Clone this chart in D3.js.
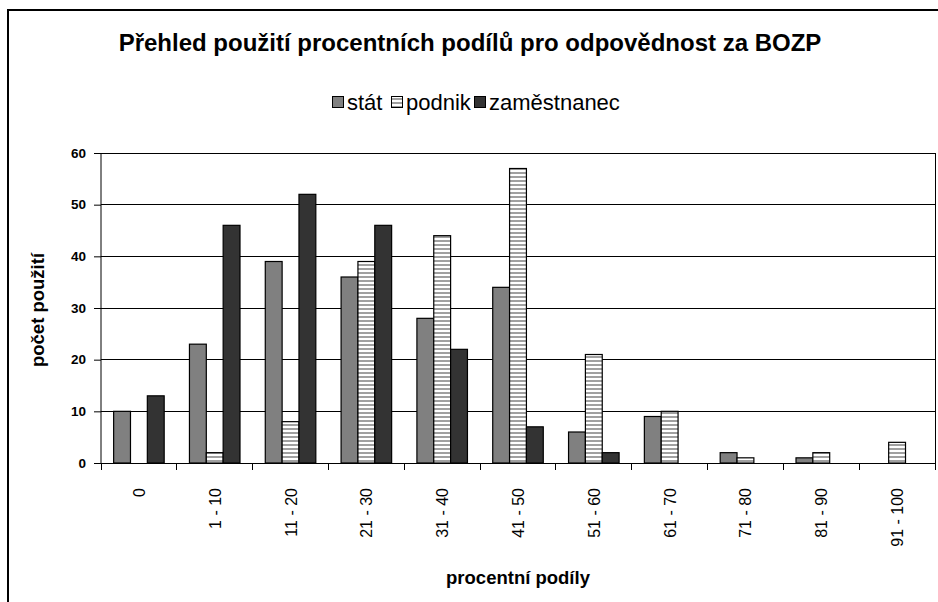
<!DOCTYPE html>
<html>
<head>
<meta charset="utf-8">
<script src="https://cdn.jsdelivr.net/npm/d3@7"></script>
<style>
	body { margin: 0; background: #fff; }
	text { font-family: Arial, "Liberation Sans", sans-serif; }
</style>
</head>
<body>
<svg id="chart" width="938" height="602"></svg>
<script>

// data
var categories = ['0', '1 - 10', '11 - 20', '21 - 30', '31 - 40', '41 - 50', '51 - 60', '61 - 70', '71 - 80', '81 - 90', '91 - 100'];
var seriesNames = ['stát', 'podnik', 'zaměstnanec'];
var statValues = [10, 23, 39, 36, 28, 34, 6, 9, 2, 1, 0];
var podnikValues = [0, 2, 8, 39, 44, 57, 21, 10, 1, 2, 4];
var zamestnanecValues = [13, 46, 52, 46, 22, 7, 2, 0, 0, 0, 0];
var yTicks = [0, 10, 20, 30, 40, 50, 60];

var seriesFill = ['#808080', 'url(#stripes)', '#333333'];

var svg = d3.select('#chart');

// stripe pattern for the "podnik" bars
var defs = svg.append('defs');
var pat = defs.append('pattern')
	.attr('id', 'stripes')
	.attr('patternUnits', 'userSpaceOnUse')
	.attr('width', 4)
	.attr('height', 4);
pat.append('rect').attr('width', 4).attr('height', 4).attr('fill', '#ffffff');
pat.append('rect').attr('width', 4).attr('height', 2).attr('fill', '#a0a0a0');

// outer frame (right and bottom run off the picture)
svg.append('path')
	.attr('d', 'M8,620 L8,10 L960,10')
	.attr('fill', 'none')
	.attr('stroke', '#000')
	.attr('stroke-width', 2);

var plot = {left: 101, top: 153, right: 935, bottom: 463};

var x = d3.scaleBand()
	.domain(categories)
	.range([plot.left, plot.right])
	.paddingInner(0)
	.paddingOuter(0);

var y = d3.scaleLinear()
	.domain([0, 60])
	.range([plot.bottom, plot.top]);

// bars inside a group: gap width 150%
var barW = x.bandwidth() / (3 + 1.5);
var xInner = d3.scaleBand()
	.domain(seriesNames)
	.range([barW * 0.75, barW * 3.75]);

// gridlines
svg.append('g')
	.selectAll('line')
	.data(yTicks.filter(function(d) { return d > 0; }))
	.join('line')
	.attr('x1', plot.left)
	.attr('x2', plot.right)
	.attr('y1', function(d) { return y(d); })
	.attr('y2', function(d) { return y(d); })
	.attr('stroke', '#000')
	.attr('stroke-width', 1)
	.attr('shape-rendering', 'crispEdges');

// right border of plot area
svg.append('line')
	.attr('x1', plot.right).attr('x2', plot.right)
	.attr('y1', plot.top).attr('y2', plot.bottom)
	.attr('stroke', '#000')
	.attr('shape-rendering', 'crispEdges');

var allSeries = [statValues, podnikValues, zamestnanecValues];

allSeries.forEach(function(values, si) {
	svg.append('g')
		.selectAll('rect')
		.data(values)
		.join('rect')
		.attr('x', function(d, i) { return x(categories[i]) + xInner(seriesNames[si]); })
		.attr('y', function(d) { return y(d); })
		.attr('width', xInner.bandwidth())
		.attr('height', function(d) { return y(0) - y(d); })
		.attr('fill', seriesFill[si])
		.attr('stroke', function(d) { return d > 0 ? '#000' : 'none'; })
		.attr('stroke-width', 1.2);
});

// y axis
var yAxis = d3.axisLeft(y)
	.tickValues(yTicks)
	.tickSize(7)
	.tickPadding(8)
	.tickFormat(d3.format('d'));

var gy = svg.append('g')
	.attr('transform', 'translate(' + plot.left + ',0)')
	.call(yAxis);
gy.select('.domain').attr('stroke', '#000').attr('d', 'M0,' + plot.top + 'V' + plot.bottom);
gy.selectAll('text')
	.attr('font-size', 13.5)
	.attr('font-weight', 'bold')
	.attr('fill', '#000')
	.style('font-family', 'Arial, "Liberation Sans", sans-serif');

// x axis - ticks at category boundaries
var gx = svg.append('g');
gx.append('line')
	.attr('x1', plot.left).attr('x2', plot.right)
	.attr('y1', plot.bottom).attr('y2', plot.bottom)
	.attr('stroke', '#000')
	.attr('shape-rendering', 'crispEdges');
gx.selectAll('line.tick')
	.data(categories.concat(['end']))
	.join('line')
	.attr('class', 'tick')
	.attr('x1', function(d, i) { return plot.left + i * x.step(); })
	.attr('x2', function(d, i) { return plot.left + i * x.step(); })
	.attr('y1', plot.bottom)
	.attr('y2', plot.bottom + 7)
	.attr('stroke', '#000')
	.attr('shape-rendering', 'crispEdges');

gx.selectAll('text')
	.data(categories)
	.join('text')
	.attr('transform', function(d) {
		return 'translate(' + (x(d) + x.bandwidth() / 2 + 6) + ',' + (plot.bottom + 25) + ') rotate(-90)';
	})
	.attr('text-anchor', 'end')
	.attr('font-size', 16)
	.attr('fill', '#000')
	.text(function(d) { return d; });

// titles
svg.append('text')
	.attr('x', 470)
	.attr('y', 51)
	.attr('text-anchor', 'middle')
	.attr('font-size', 24)
	.attr('font-weight', 'bold')
	.text('Přehled použití procentních podílů pro odpovědnost za BOZP');

svg.append('text')
	.attr('x', 518)
	.attr('y', 584)
	.attr('text-anchor', 'middle')
	.attr('font-size', 18.5)
	.attr('font-weight', 'bold')
	.text('procentní podíly');

svg.append('text')
	.attr('transform', 'translate(44,310) rotate(-90)')
	.attr('text-anchor', 'middle')
	.attr('font-size', 18.5)
	.attr('font-weight', 'bold')
	.text('počet použití');

// legend
var legend = svg.append('g').attr('transform', 'translate(332,102)');
var legendX = [0, 59, 142];
seriesNames.forEach(function(name, i) {
	var item = legend.append('g').attr('transform', 'translate(' + legendX[i] + ',0)');
	item.append('rect')
		.attr('x', 0.5).attr('y', -5.5)
		.attr('width', 11).attr('height', 11)
		.attr('fill', seriesFill[i])
		.attr('stroke', '#000');
	item.append('text')
		.attr('x', 15)
		.attr('y', 8)
		.attr('font-size', 22)
		.text(name);
});

</script>
</body>
</html>
